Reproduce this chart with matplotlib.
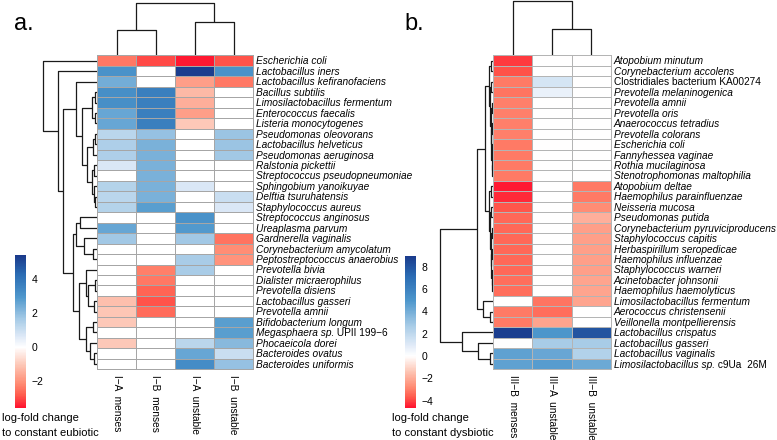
import numpy as np
import matplotlib
matplotlib.use("Agg")
import matplotlib.pyplot as plt
from matplotlib.colors import LinearSegmentedColormap, Normalize
from matplotlib.cm import ScalarMappable

plt.rcParams['font.family'] = ['Liberation Sans', 'DejaVu Sans']

# ---------------- panel a data ----------------
a_rows = ["Escherichia coli", "Lactobacillus iners", "Lactobacillus kefiranofaciens",
          "Bacillus subtilis", "Limosilactobacillus fermentum", "Enterococcus faecalis",
          "Listeria monocytogenes", "Pseudomonas oleovorans", "Lactobacillus helveticus",
          "Pseudomonas aeruginosa", "Ralstonia pickettii", "Streptococcus pseudopneumoniae",
          "Sphingobium yanoikuyae", "Delftia tsuruhatensis", "Staphylococcus aureus",
          "Streptococcus anginosus", "Ureaplasma parvum", "Gardnerella vaginalis",
          "Corynebacterium amycolatum", "Peptostreptococcus anaerobius", "Prevotella bivia",
          "Dialister micraerophilus", "Prevotella disiens", "Lactobacillus gasseri",
          "Prevotella amnii", "Bifidobacterium longum", "Megasphaera sp. UPII 199−6",
          "Phocaeicola dorei", "Bacteroides ovatus", "Bacteroides uniformis"]
a_cols = ["I−A  menses", "I−B  menses", "I−A  unstable", "I−B  unstable"]

a_ia_menses = [-2.4, 3.1, 2.4, 3.2, 3.2, 2.6, 2.6, 1.3, 1.5, 1.5, 0.7, 0, 1.4, 1.3, 1.4,
               0, 2.6, 1.7, 0, 0, 0, 0, 0, -1.2, -1.05, -1.0, 0, -1.0, 0, 0]
a_ib_menses = [-3.0, 0, 0, 3.7, 3.7, 3.7, 3.7, 1.9, 2.3, 2.3, 2.3, 2.3, 2.3, 2.3, 2.8,
               0, 0, 0, 0, 0, -2.3, -2.4, -2.7, -2.9, -2.6, 0, 0, 0, 0, 0]
a_ia_unstable = [-3.5, 5.3, -1.8, -1.3, -1.5, -1.8, -1.0, 0, 0, 0, 0, 0, 0.7, 0, 0,
                 3.1, 2.9, 1.7, 0, 1.6, 1.6, 0, 0, 0, 0, 0, 0, 1.3, 2.6, 3.3]
a_ib_unstable = [-2.9, 3.1, -2.4, 0, 0, 0, 0, 1.8, 1.8, 1.7, 0, 0, 0, 1.0, 0.7,
                 0, 0, -2.5, -2.1, -2.0, 0, 0, 0, 0, 0, 2.8, 2.8, 2.1, 1.0, 1.9]
a_vmin, a_vmax = -3.55, 5.4
a_ticks = [4, 2, 0, -2]

# row tree: [height, left, right], leaves are row indices
a_row_tree = [54, 0, [39, 1, [34,
    [21, 2, [15, [5, [2, 3, 4], [2.5, 5, 6]],
                 [10, [4, [2, 7, 8], 9], [5, [3, 10, 11], [3.5, 12, [2, 13, 14]]]]]],
    [24, [21, [17, 15, 16], [13, 17, [4, 18, 19]]],
         [18, [11, 20, [9, [2, 21, 22], [3, 23, 24]]],
              [11, [4, 25, 26], [7, 27, [3, 28, 29]]]]]]]]
a_col_tree = [52, [25.3, 0, 1], [32.7, 2, 3]]

# ---------------- panel b data ----------------
b_rows = ["Atopobium minutum", "Corynebacterium accolens", "Clostridiales bacterium KA00274",
          "Prevotella melaninogenica", "Prevotella amnii", "Prevotella oris",
          "Anaerococcus tetradius", "Prevotella colorans", "Escherichia coli",
          "Fannyhessea vaginae", "Rothia mucilaginosa", "Stenotrophomonas maltophilia",
          "Atopobium deltae", "Haemophilus parainfluenzae", "Neisseria mucosa",
          "Pseudomonas putida", "Corynebacterium pyruviciproducens", "Staphylococcus capitis",
          "Herbaspirillum seropedicae", "Haemophilus influenzae", "Staphylococcus warneri",
          "Acinetobacter johnsonii", "Haemophilus haemolyticus", "Limosilactobacillus fermentum",
          "Aerococcus christensenii", "Veillonella montpellierensis", "Lactobacillus crispatus",
          "Lactobacillus gasseri", "Lactobacillus vaginalis",
          "Limosilactobacillus sp. c9Ua  26M"]
b_cols = ["III−B  menses", "III−A  unstable", "III−B  unstable"]

b_iiib_menses = [-4.1, -3.8, -3.1, -3.2, -3.0, -3.0, -3.0, -3.0, -3.1, -3.1, -3.1, -3.1,
                 -4.5, -4.3, -3.7, -3.4, -3.4, -3.4, -3.4, -3.4, -3.4, -3.3, -3.3,
                 0, -3.1, -3.1, 8.8, 0, 4.5, 4.5]
b_iiia_unstable = [0, 0, 1.3, 0.7, 0, 0, 0, 0, 0, 0, 0, 0,
                   0, 0, 0, 0, 0, 0, 0, 0, 0, 0, 0,
                   -3.2, -3.3, -2.2, 5.0, 2.7, 4.3, 4.7]
b_iiib_unstable = [0, 0, 0, 0, 0, 0, 0, 0, 0, 0, 0, 0,
                   -3.1, -3.1, -2.7, -1.9, -2.3, -2.3, -2.3, -2.3, -2.3, -2.2, -2.2,
                   -2.2, 0, 0, 8.0, 2.7, 2.4, 4.2]
b_vmin, b_vmax = -4.6, 9.0
b_ticks = [8, 6, 4, 2, 0, -2, -4]

b_row_tree = [53,
    [16, [8, [4, [2.5, 0, 1], [3.5, [2, 2, 3], [2.5, [1.5, 4, 5],
                                   [2, [1.2, 6, 7], [1.5, [1, 8, 9], [1, 10, 11]]]]]],
             [4.5, [2, 12, 13], [3.5, [2.5, 14, 15], [2.5, [1.5, 16, 17],
                                   [2, [1.5, 18, 19], [1.5, 20, [1, 21, 22]]]]]]],
         [10, 23, [3, 24, 25]]],
    [31, 26, [15, 27, [3, 28, 29]]]]
b_col_tree = [54, 0, [26, 1, 2]]

# labels not fully italic: upright labels, and italic prefix of mixed labels
upright_labels = ["Clostridiales bacterium KA00274"]
italic_prefix = {"Megasphaera sp. UPII 199−6": "Megasphaera sp.",
                 "Limosilactobacillus sp. c9Ua  26M": "Limosilactobacillus sp."}

# ---------------- helpers ----------------
W, H = 777, 440
fig = plt.figure(figsize=(W / 100, H / 100), dpi=100)
renderer = fig.canvas.get_renderer()


def box(x0, y0, x1, y1):
    return [x0 / W, 1 - y1 / H, (x1 - x0) / W, (y1 - y0) / H]


def make_cmap(vmin, vmax):
    z = -vmin / (vmax - vmin)
    reds = [(0.0, '#ff1530'), (0.2, '#ff5b4d'), (0.4, '#ff8c74'), (0.7, '#fdc6b5'), (1.0, '#ffffff')]
    blues = [(0.0, '#ffffff'), (0.1, '#e3ecf8'), (0.3, '#a8cce7'), (0.55, '#4e97cc'),
             (0.8, '#2a6bb3'), (1.0, '#1a3a8b')]
    stops = [(p * z, c) for p, c in reds] + [(z + p * (1 - z), c) for p, c in blues[1:]]
    return LinearSegmentedColormap.from_list('lfc', stops)


def draw_tree(ax, node, orient):
    if isinstance(node, int):
        return node + 0.5, 0
    h, left, right = node
    p1, h1 = draw_tree(ax, left, orient)
    p2, h2 = draw_tree(ax, right, orient)
    if orient == 'top':
        ax.plot([p1, p1, p2, p2], [h1, h, h, h2], color='#1a1a1a', lw=0.9,
                solid_capstyle='butt')
    else:
        ax.plot([h1, h, h, h2], [p1, p1, p2, p2], color='#1a1a1a', lw=0.9,
                solid_capstyle='butt')
    return (p1 + p2) / 2, h


def row_label(ax, x, y, lab):
    kw = dict(va='baseline', ha='left', fontsize=7.3)
    if lab in italic_prefix:
        pre = italic_prefix[lab]
        t = ax.text(x, y, pre, style='italic', **kw)
        x1 = t.get_window_extent(renderer).x1
        xd = ax.transData.inverted().transform((x1, 0))[0]
        ax.text(xd, y, lab[len(pre):], **kw)
    else:
        ax.text(x, y, lab, style='normal' if lab in upright_labels else 'italic', **kw)


def panel(values, rows, cols, vmin, vmax, ticks, row_tree, col_tree, hx0, hx1,
          tx0, cbx, edge, cb_text, letter, letter_x):
    vals = np.column_stack(values)
    nrow, ncol = vals.shape
    cmap = make_cmap(vmin, vmax)
    norm = Normalize(vmin, vmax)

    ax = fig.add_axes(box(hx0, 55.5, hx1, 369))
    mesh = ax.pcolormesh(vals, cmap=cmap, norm=norm, edgecolors=edge, linewidth=0.5)
    mesh.set_clip_on(False)
    ax.set_xlim(0, ncol)
    ax.set_ylim(nrow, 0)
    ax.axis('off')
    cw = (hx1 - hx0) / ncol
    for i, lab in enumerate(rows):
        row_label(ax, ncol + 2.5 / cw, i + 0.86, lab)
    for j, lab in enumerate(cols):
        ax.text(j + 0.5, nrow + 0.55, lab, rotation=270, ha='center', va='top',
                fontsize=7.3)

    axt = fig.add_axes(box(hx0, 0, hx1, 55))
    draw_tree(axt, col_tree, 'top')
    axt.set_xlim(0, ncol)
    axt.set_ylim(0, 55)
    axt.axis('off')

    axl = fig.add_axes(box(tx0, 55.5, hx0, 369))
    draw_tree(axl, row_tree, 'left')
    axl.set_xlim(hx0 - tx0, 0)
    axl.set_ylim(nrow, 0)
    axl.axis('off')

    cax = fig.add_axes(box(cbx, 255.5, cbx + 10.7, 407.5))
    cb = fig.colorbar(ScalarMappable(norm=norm, cmap=cmap), cax=cax)
    cb.outline.set_visible(False)
    cb.set_ticks(ticks)
    cax.tick_params(length=0, labelsize=7.5, pad=4)

    fig.text((cbx - 13) / W, 1 - 418 / H, cb_text[0], fontsize=8, va='center')
    fig.text((cbx - 13) / W, 1 - 433 / H, cb_text[1], fontsize=8, va='center')
    fig.text(letter_x / W, 1 - 30 / H, letter, fontsize=17, va='baseline')


panel([a_ia_menses, a_ib_menses, a_ia_unstable, a_ib_unstable], a_rows, a_cols,
      a_vmin, a_vmax, a_ticks, a_row_tree, a_col_tree, 97, 253, 40, 15, '#a6a6a6',
      ("log-fold change", "to constant eubiotic"), "a.", 14)
panel([b_iiib_menses, b_iiia_unstable, b_iiib_unstable], b_rows, b_cols,
      b_vmin, b_vmax, b_ticks, b_row_tree, b_col_tree, 493, 611, 437, 405, '#b4b4b4',
      ("log-fold change", "to constant dysbiotic"), "b.", 404)

fig.savefig("out.png", dpi=100)
